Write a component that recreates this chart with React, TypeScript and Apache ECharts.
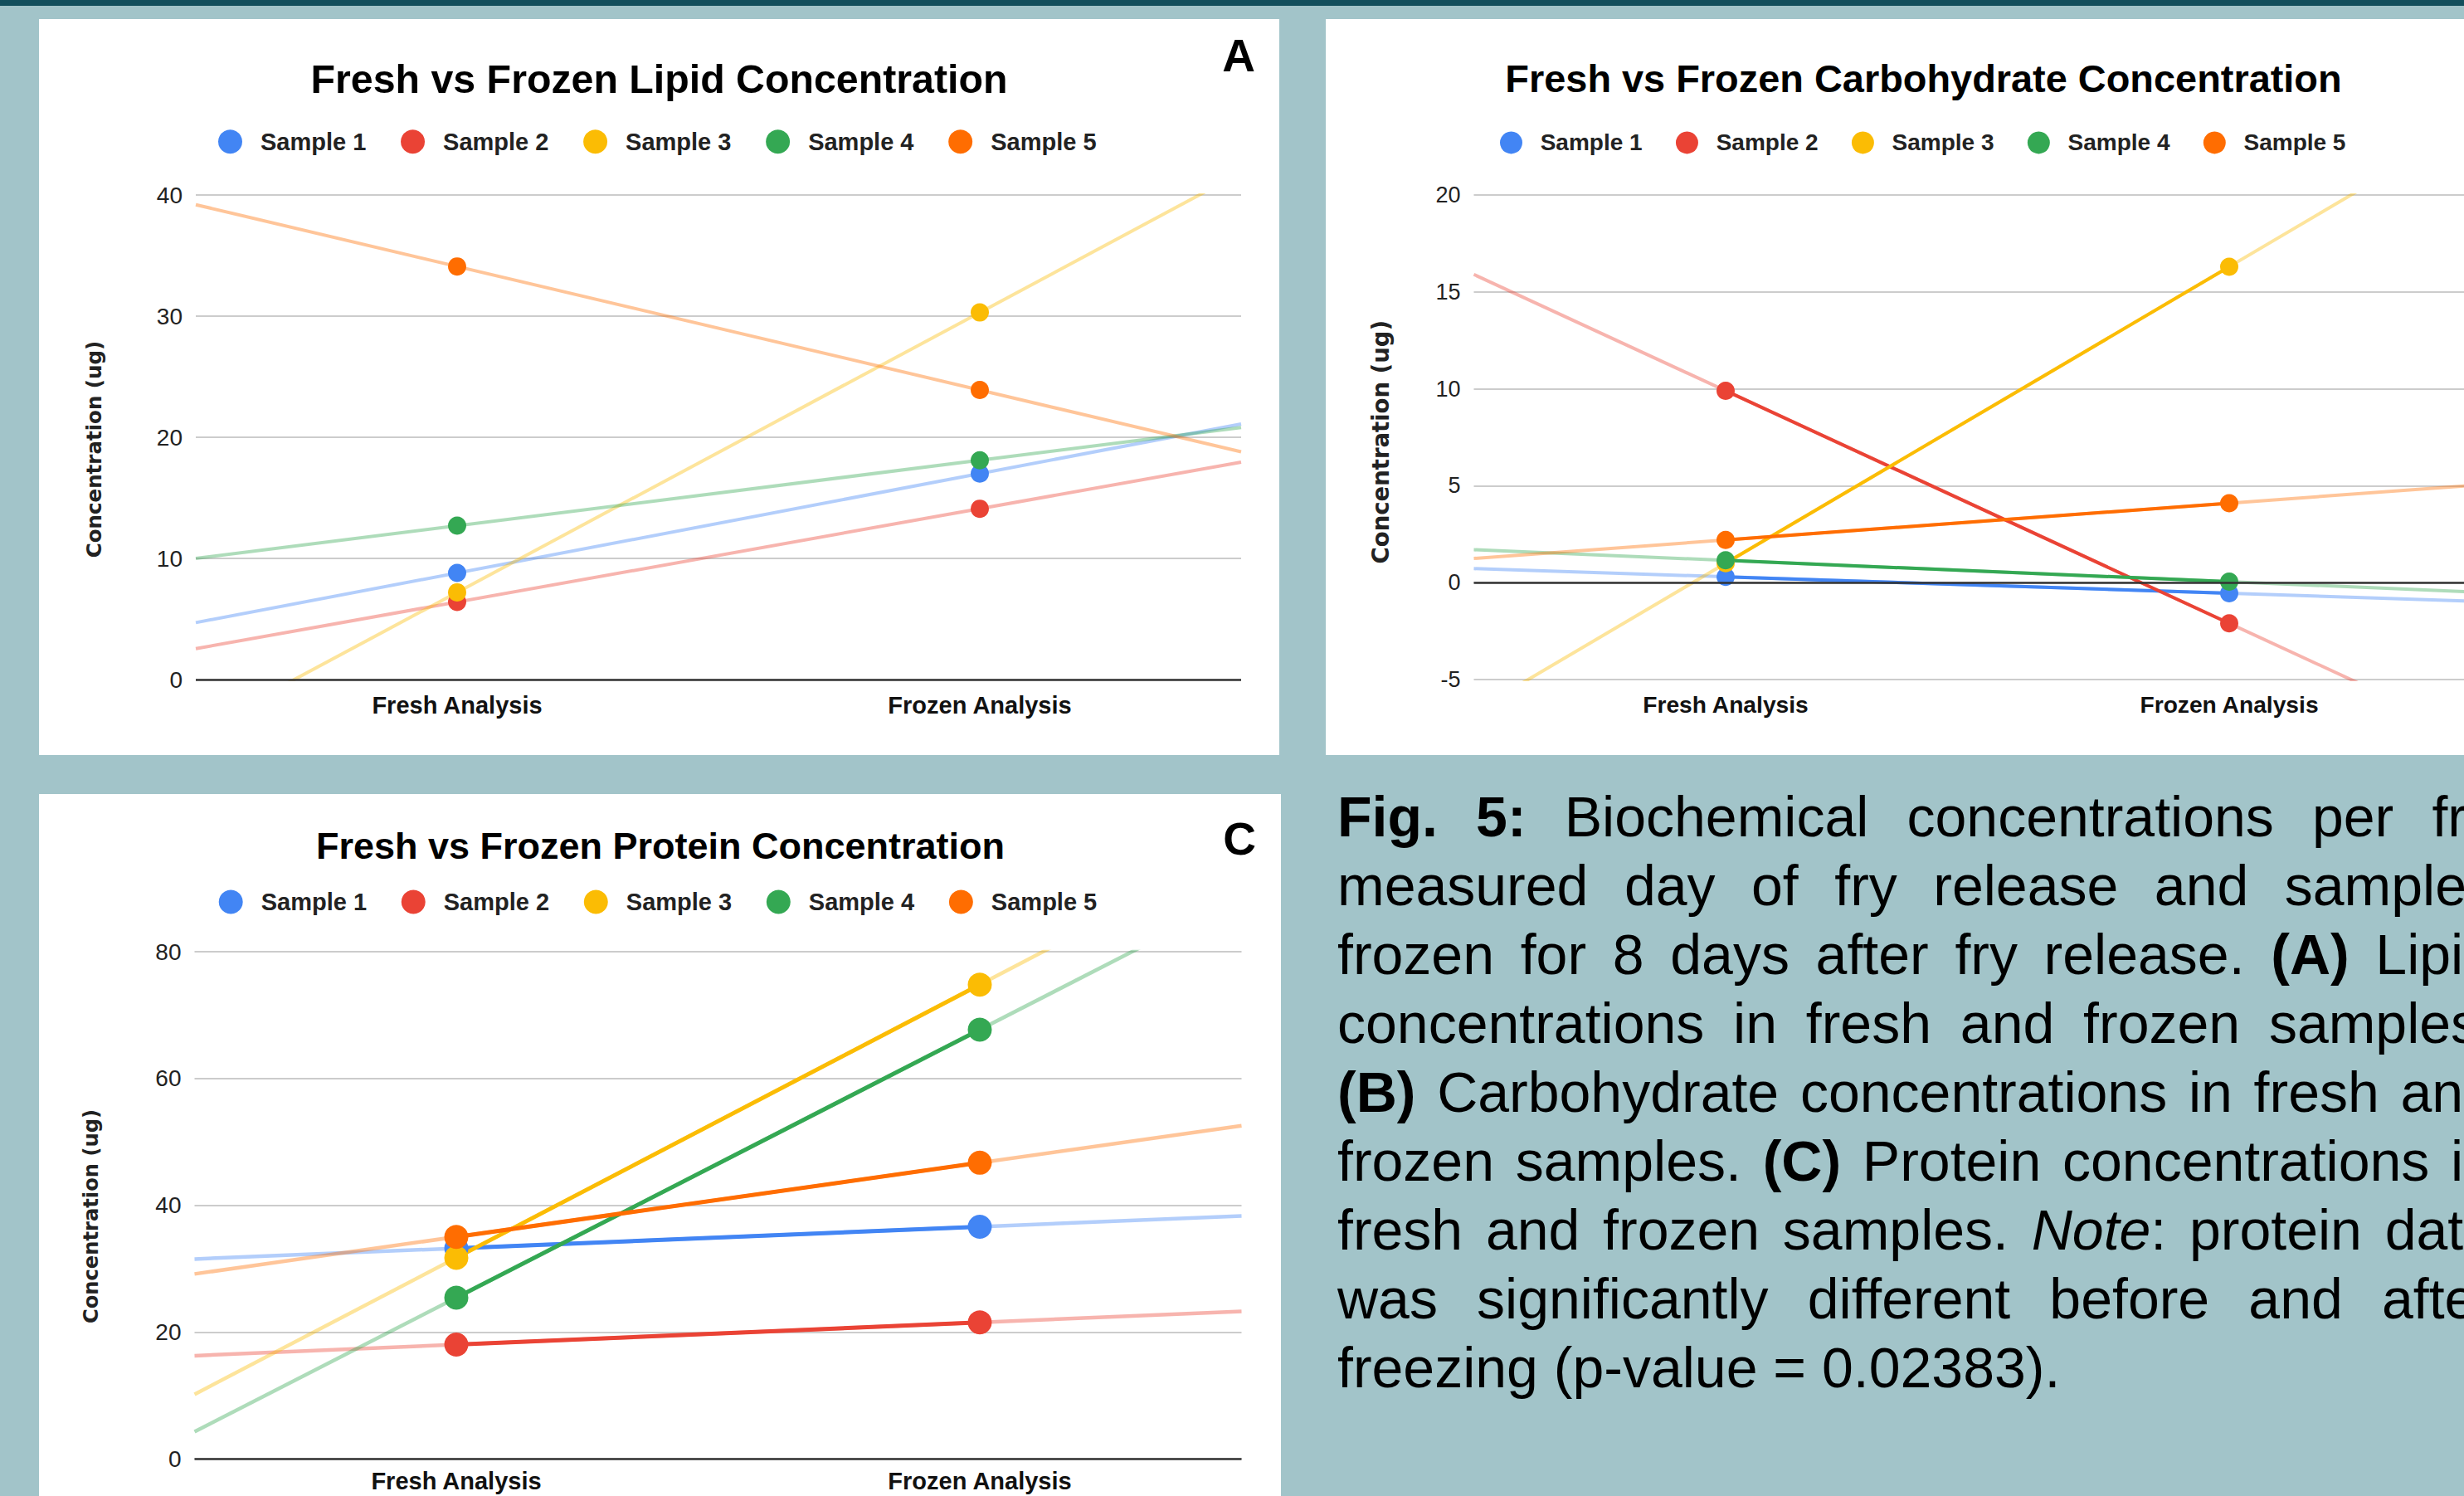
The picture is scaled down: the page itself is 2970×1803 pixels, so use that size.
import React, { useEffect, useRef } from "react";
import * as echarts from "echarts";

// ---------------- data ----------------
const categories = ["Fresh Analysis", "Frozen Analysis"];
const sampleNames = ["Sample 1", "Sample 2", "Sample 3", "Sample 4", "Sample 5"];
const sampleColors = ["#4285f4", "#ea4335", "#fbbc04", "#34a853", "#ff6d01"];

const lipidFresh = [8.8, 6.4, 7.2, 12.7, 34.1];
const lipidFrozen = [17.0, 14.1, 30.3, 18.1, 23.9];

const carbFresh = [0.3, 9.9, 1.0, 1.15, 2.2];
const carbFrozen = [-0.55, -2.1, 16.3, 0.05, 4.1];

const proteinFresh = [33.2, 18.0, 31.7, 25.4, 35.0];
const proteinFrozen = [36.6, 21.5, 74.8, 67.7, 46.7];

const lipidAxis = { min: 0, max: 40, interval: 10 };
const carbAxis = { min: -5, max: 20, interval: 5 };
const proteinAxis = { min: 0, max: 80, interval: 20 };

const titles = [
  "Fresh vs Frozen Lipid Concentration",
  "Fresh vs Frozen Carbohydrate Concentration",
  "Fresh vs Frozen Protein Concentration",
];
const yAxisTitle = "Concentration (ug)";

const captionLines = [
  "**Fig.** **5:** Biochemical concentrations per fry",
  "measured day of fry release and samples",
  "frozen for 8 days after fry release. **(A)** Lipid",
  "concentrations in fresh and frozen samples.",
  "**(B)** Carbohydrate concentrations in fresh and",
  "frozen samples. **(C)** Protein concentrations in",
  "fresh and frozen samples. _Note_: protein data",
  "was significantly different before and after",
  "freezing (p-value = 0.02383).",
];

// ---------------- layout ----------------
const W = 2970;
const H = 1803;
const CHART_W = 3100; // wider than the page: panel B runs past the right edge
const FONT = '"Liberation Sans", Arial, sans-serif';
const AXIS_TITLE_FONT = '"DejaVu Sans", Verdana, sans-serif';

const panelRects = [
  { x: 47, y: 23, w: 1495, h: 887 },
  { x: 1598, y: 23, w: 1441, h: 887 },
  { x: 47, y: 957, w: 1497, h: 900 },
];

const panels = [
  {
    fresh: lipidFresh, frozen: lipidFrozen, axis: lipidAxis, title: titles[0],
    grid: { left: 236, top: 235, width: 1260, height: 584 },
    connect: false, dot: 22, lineW: 0, trendW: 4,
    titleX: 794.5, titleBase: 111.7, titleSize: 48.3,
    legendLeft: 263, legendCenter: 170.7, legendIcon: 29, legendFont: 29, legendPad: 17, legendGap: 41.7,
    tickFont: 28, catFont: 29, catMargin: 16,
    yTitleX: 113.5, yTitleY: 541.5, yTitleSize: 24.5,
    letter: "A", letterX: 1493, letterY: 66.5,
  },
  {
    fresh: carbFresh, frozen: carbFrozen, axis: carbAxis, title: titles[1],
    grid: { left: 1776.5, top: 235, width: 1214, height: 584 },
    connect: true, dot: 22, lineW: 4, trendW: 4,
    titleX: 2318.5, titleBase: 111.5, titleSize: 46.9,
    legendLeft: 1808, legendCenter: 171.4, legendIcon: 27, legendFont: 28, legendPad: 16.7, legendGap: 40.3,
    tickFont: 27, catFont: 28.2, catMargin: 16,
    yTitleX: 1663.5, yTitleY: 532.7, yTitleSize: 27.5,
    letter: "", letterX: 0, letterY: 0,
  },
  {
    fresh: proteinFresh, frozen: proteinFrozen, axis: proteinAxis, title: titles[2],
    grid: { left: 234.5, top: 1147, width: 1262, height: 611 },
    connect: true, dot: 29, lineW: 5, trendW: 4.5,
    titleX: 796, titleBase: 1035.5, titleSize: 45,
    legendLeft: 263.7, legendCenter: 1087, legendIcon: 29, legendFont: 29, legendPad: 17, legendGap: 41.7,
    tickFont: 28, catFont: 29, catMargin: 12,
    yTitleX: 109.5, yTitleY: 1466, yTitleSize: 24.2,
    letter: "C", letterX: 1494, letterY: 1010.5,
  },
];

const caption = { left: 1612, right: 3007, firstBase: 1008, lineStep: 83, size: 68 };

// ---------------- helpers ----------------
function parseWord(word: string): [string, string][] {
  const runs: [string, string][] = [];
  const re = /(\*\*[^*]+\*\*|_[^_]+_|[^*_]+)/g;
  let m: RegExpExecArray | null;
  while ((m = re.exec(word))) {
    const t = m[0];
    if (t.startsWith("**")) runs.push([t.slice(2, -2), "b"]);
    else if (t.startsWith("_")) runs.push([t.slice(1, -1), "i"]);
    else runs.push([t, ""]);
  }
  return runs;
}

function fontOf(style: string, size: number) {
  return `${style === "i" ? "italic " : ""}${style === "b" ? "bold " : ""}${size}px "Liberation Sans"`;
}

function captionGraphics(): any[] {
  const ctx = document.createElement("canvas").getContext("2d")!;
  const meas = (t: string, s: string) => {
    ctx.font = fontOf(s, caption.size);
    return ctx.measureText(t).width;
  };
  const out: any[] = [];
  const width = caption.right - caption.left;
  captionLines.forEach((line, li) => {
    const words = line.split(" ").map(parseWord);
    const widths = words.map((runs) => runs.reduce((a, [t, s]) => a + meas(t, s), 0));
    const total = widths.reduce((a, b) => a + b, 0);
    const last = li === captionLines.length - 1;
    const gap = last ? meas(" ", "") : (width - total) / (words.length - 1);
    const y = caption.firstBase + li * caption.lineStep - 0.3465 * caption.size;
    let x = caption.left;
    words.forEach((runs, wi) => {
      let rx = x;
      runs.forEach(([t, s]) => {
        out.push({
          type: "text",
          x: rx,
          y,
          z: 100,
          style: {
            text: t,
            fontSize: caption.size,
            fontFamily: FONT,
            fontWeight: s === "b" ? "bold" : "normal",
            fontStyle: s === "i" ? "italic" : "normal",
            fill: "#000000",
            align: "left",
            verticalAlign: "middle",
          },
        });
        rx += meas(t, s);
      });
      x += widths[wi] + gap;
    });
  });
  return out;
}

function buildOption(): any {
  const grid: any[] = [];
  const xAxis: any[] = [];
  const yAxis: any[] = [];
  const legend: any[] = [];
  const pointSeries: any[] = [];
  const trendSeries: any[] = [];
  const graphic: any[] = [];

  panels.forEach((p, g) => {
    grid.push({ ...p.grid, containLabel: false });
    xAxis.push({
      type: "category",
      gridIndex: g,
      data: categories,
      boundaryGap: true,
      axisLine: { show: false },
      axisTick: { show: false },
      splitLine: { show: false },
      axisLabel: {
        fontSize: p.catFont,
        fontWeight: "bold",
        color: "#111111",
        fontFamily: FONT,
        margin: p.catMargin,
      },
    });
    xAxis.push({ type: "value", gridIndex: g, min: -0.5, max: 1.5, show: false });
    yAxis.push({
      type: "value",
      gridIndex: g,
      min: p.axis.min,
      max: p.axis.max,
      interval: p.axis.interval,
      axisLine: { show: false },
      axisTick: { show: false },
      axisLabel: { fontSize: p.tickFont, color: "#222222", fontFamily: FONT, margin: 16 },
      splitLine: { lineStyle: { color: "#cccccc", width: 2 } },
    });
    legend.push({
      data: sampleNames,
      left: p.legendLeft,
      top: p.legendCenter - p.legendIcon / 2,
      orient: "horizontal",
      icon: "circle",
      itemWidth: p.legendIcon,
      itemHeight: p.legendIcon,
      itemGap: p.legendGap,
      padding: 0,
      selectedMode: false,
      textStyle: {
        fontSize: p.legendFont,
        fontWeight: "bold",
        color: "#222222",
        fontFamily: FONT,
        lineHeight: p.legendIcon,
        padding: [0, 0, 0, p.legendPad],
      },
    });

    const vx = 2 * g + 1;
    sampleNames.forEach((name, i) => {
      const v0 = p.fresh[i];
      const v1 = p.frozen[i];
      const d = v1 - v0;
      const color = sampleColors[i];
      if (p.connect) {
        pointSeries.push({
          type: "line",
          name,
          xAxisIndex: vx,
          yAxisIndex: g,
          data: [[0, v0], [1, v1]],
          symbol: "circle",
          symbolSize: p.dot,
          showSymbol: true,
          lineStyle: { color, width: p.lineW },
          itemStyle: { color },
          z: 4,
          silent: true,
        });
      } else {
        pointSeries.push({
          type: "scatter",
          name,
          xAxisIndex: vx,
          yAxisIndex: g,
          data: [[0, v0], [1, v1]],
          symbol: "circle",
          symbolSize: p.dot,
          itemStyle: { color, opacity: 1 },
          z: 4,
          silent: true,
        });
      }
      const trend: any = {
        type: "line",
        name,
        xAxisIndex: vx,
        yAxisIndex: g,
        data: [[-0.5, v0 - d / 2], [1.5, v1 + d / 2]],
        symbol: "none",
        clip: true,
        lineStyle: { color, width: p.trendW, opacity: 0.4 },
        itemStyle: { color },
        z: 2,
        silent: true,
      };
      if (i === 0) {
        trend.markLine = {
          silent: true,
          symbol: ["none", "none"],
          label: { show: false },
          lineStyle: { color: "#333333", width: 2.5, type: "solid", opacity: 1 },
          emphasis: { disabled: true },
          data: [{ yAxis: 0 }],
        };
      }
      trendSeries.push(trend);
    });

    graphic.push({
      type: "text",
      x: p.titleX,
      y: p.titleBase - 0.3465 * p.titleSize,
      z: 100,
      style: {
        text: p.title,
        fontSize: p.titleSize,
        fontWeight: "bold",
        fontFamily: FONT,
        fill: "#000000",
        align: "center",
        verticalAlign: "middle",
      },
    });
    graphic.push({
      type: "text",
      x: p.yTitleX,
      y: p.yTitleY,
      rotation: Math.PI / 2,
      z: 100,
      style: {
        text: yAxisTitle,
        fontSize: p.yTitleSize,
        fontWeight: "bold",
        fontFamily: AXIS_TITLE_FONT,
        fill: "#222222",
        align: "center",
        verticalAlign: "middle",
      },
    });
    if (p.letter) {
      graphic.push({
        type: "text",
        x: p.letterX,
        y: p.letterY,
        z: 100,
        style: {
          text: p.letter,
          fontSize: 55,
          fontWeight: "bold",
          fontFamily: FONT,
          fill: "#000000",
          align: "center",
          verticalAlign: "middle",
        },
      });
    }
  });

  return {
    animation: false,
    backgroundColor: "transparent",
    grid,
    xAxis,
    yAxis,
    legend,
    series: [...pointSeries, ...trendSeries],
    graphic: [...graphic, ...captionGraphics()],
  };
}

export default function App() {
  const ref = useRef<HTMLDivElement>(null);
  useEffect(() => {
    const chart = echarts.init(ref.current!, null, { renderer: "svg" });
    chart.setOption(buildOption());
    return () => chart.dispose();
  }, []);
  return (
    <div
      style={{
        position: "fixed",
        left: 0,
        top: 0,
        width: W,
        height: H,
        overflow: "hidden",
        background: "#a2c4c9",
      }}
    >
      <div style={{ position: "absolute", left: 0, top: 0, width: W, height: 7, background: "#134f5c" }} />
      {panelRects.map((r, i) => (
        <div
          key={i}
          style={{ position: "absolute", left: r.x, top: r.y, width: r.w, height: r.h, background: "#ffffff" }}
        />
      ))}
      <div ref={ref} style={{ position: "absolute", left: 0, top: 0, width: CHART_W, height: H }} />
    </div>
  );
}
